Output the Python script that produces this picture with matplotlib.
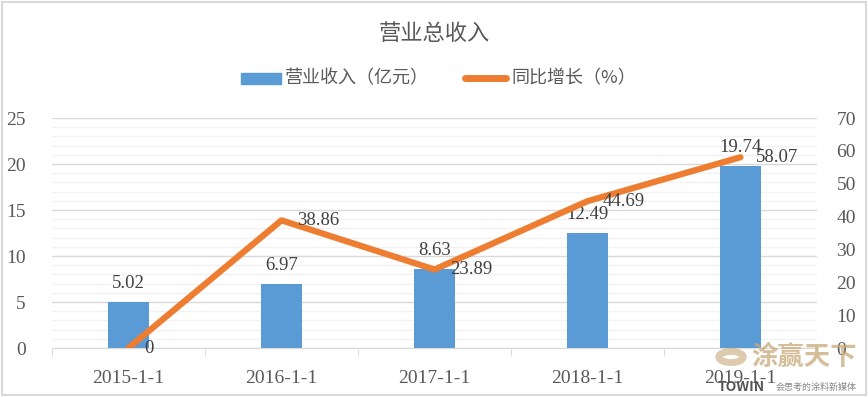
import numpy as np
import matplotlib.pyplot as plt
from matplotlib.ticker import MultipleLocator, FixedLocator
from matplotlib.patches import Rectangle, Circle

plt.rcParams['font.family'] = ['Noto Sans CJK SC', 'DejaVu Sans']

categories = ['2015-1-1', '2016-1-1', '2017-1-1', '2018-1-1', '2019-1-1']
revenue = [5.02, 6.97, 8.63, 12.49, 19.74]
growth = [0, 38.86, 23.89, 44.69, 58.07]

blue = '#5B9BD5'
orange = '#ED7D31'
txt = '#595959'
serif = 'Liberation Serif'

fig = plt.figure(figsize=(8.68, 3.97), dpi=100)
fig.patches.append(Rectangle((0.002, 0.004), 0.996, 0.992, transform=fig.transFigure,
                             fill=False, edgecolor='#D9D9D9', linewidth=1.5))

ax = fig.add_axes([0.0599, 0.1234, 0.8813, 0.5793])
ax2 = ax.twinx()

x = np.arange(len(categories))
ax.bar(x, revenue, width=0.27, color=blue, zorder=2)
for xi, v in zip(x, revenue):
    ax.text(xi, v + 1.1, f'{v:.2f}', ha='center', va='bottom', fontsize=13.5,
            family=serif, color='#404040')

ax.set_xlim(-0.5, len(categories) - 0.5)
ax.set_ylim(0, 25)
ax.yaxis.set_major_locator(MultipleLocator(5))
ax.yaxis.set_minor_locator(MultipleLocator(1))
ax.grid(axis='y', which='major', color='#D9D9D9', linewidth=1, zorder=0)
ax.grid(axis='y', which='minor', color='#F2F2F2', linewidth=1, zorder=0)
ax.set_axisbelow(True)
ax.set_xticks(x)
ax.set_xticklabels(categories)
ax.xaxis.set_minor_locator(FixedLocator(np.arange(-0.5, len(categories), 1.0)))
ax.tick_params(axis='x', which='major', length=0, pad=16)
ax.tick_params(axis='x', which='minor', length=6, color='#D9D9D9', direction='out')
ax.tick_params(axis='y', which='both', length=0, pad=19)
for lab in ax.get_xticklabels() + ax.get_yticklabels():
    lab.set_family(serif)
    lab.set_fontsize(14)
    lab.set_color(txt)
for s in ['top', 'left', 'right']:
    ax.spines[s].set_visible(False)
ax.spines['bottom'].set_color('#D9D9D9')

ax2.plot(x, growth, color=orange, linewidth=4.5, solid_capstyle='round', zorder=3)
for xi, v in zip(x, growth):
    lbl = '0' if v == 0 else f'{v:.2f}'
    ax2.text(xi + 0.1, v, lbl, ha='left', va='center', fontsize=13.5,
             family=serif, color='#404040')
ax2.set_ylim(0, 70)
ax2.yaxis.set_major_locator(MultipleLocator(10))
ax2.tick_params(axis='y', length=0, pad=14)
for lab in ax2.get_yticklabels():
    lab.set_family(serif)
    lab.set_fontsize(14)
    lab.set_color(txt)
for s in ax2.spines.values():
    s.set_visible(False)

fig.text(0.5, 1 - 33 / 397, '营业总收入', ha='center', va='center', fontsize=16,
         color=txt)

# legend
fig.patches.append(Rectangle((241 / 868, 1 - 84 / 397), 40 / 868, 11 / 397,
                             transform=fig.transFigure, color=blue))
fig.text(285 / 868, 1 - 78 / 397, '营业收入（亿元）', ha='left', va='center',
         fontsize=13, color=txt)
fig.lines.append(plt.Line2D([465 / 868, 506 / 868], [1 - 78 / 397, 1 - 78 / 397],
                            transform=fig.transFigure, color=orange, linewidth=5,
                            solid_capstyle='round'))
fig.text(511 / 868, 1 - 78 / 397, '同比增长（%）', ha='left', va='center',
         fontsize=13, color=txt)

# watermark
fig.patches.append(Circle((731 / 868, 1 - 357 / 397), 0.014, transform=fig.transFigure,
                          fill=False, edgecolor='#C8A878', linewidth=5, alpha=0.6))
fig.text(751 / 868, 1 - 357 / 397, '涂赢天下', ha='left', va='center', fontsize=19,
         color='#C8A878', alpha=0.75, fontweight='bold')
fig.text(718 / 868, 1 - 387 / 397, 'TOWIN', ha='left', va='center', fontsize=10,
         color='#555555', fontweight='bold')
fig.text(776 / 868, 1 - 387 / 397, '会思考的涂料新媒体', ha='left', va='center',
         fontsize=6.5, color='#888888')

fig.savefig('out.png', dpi=100)
